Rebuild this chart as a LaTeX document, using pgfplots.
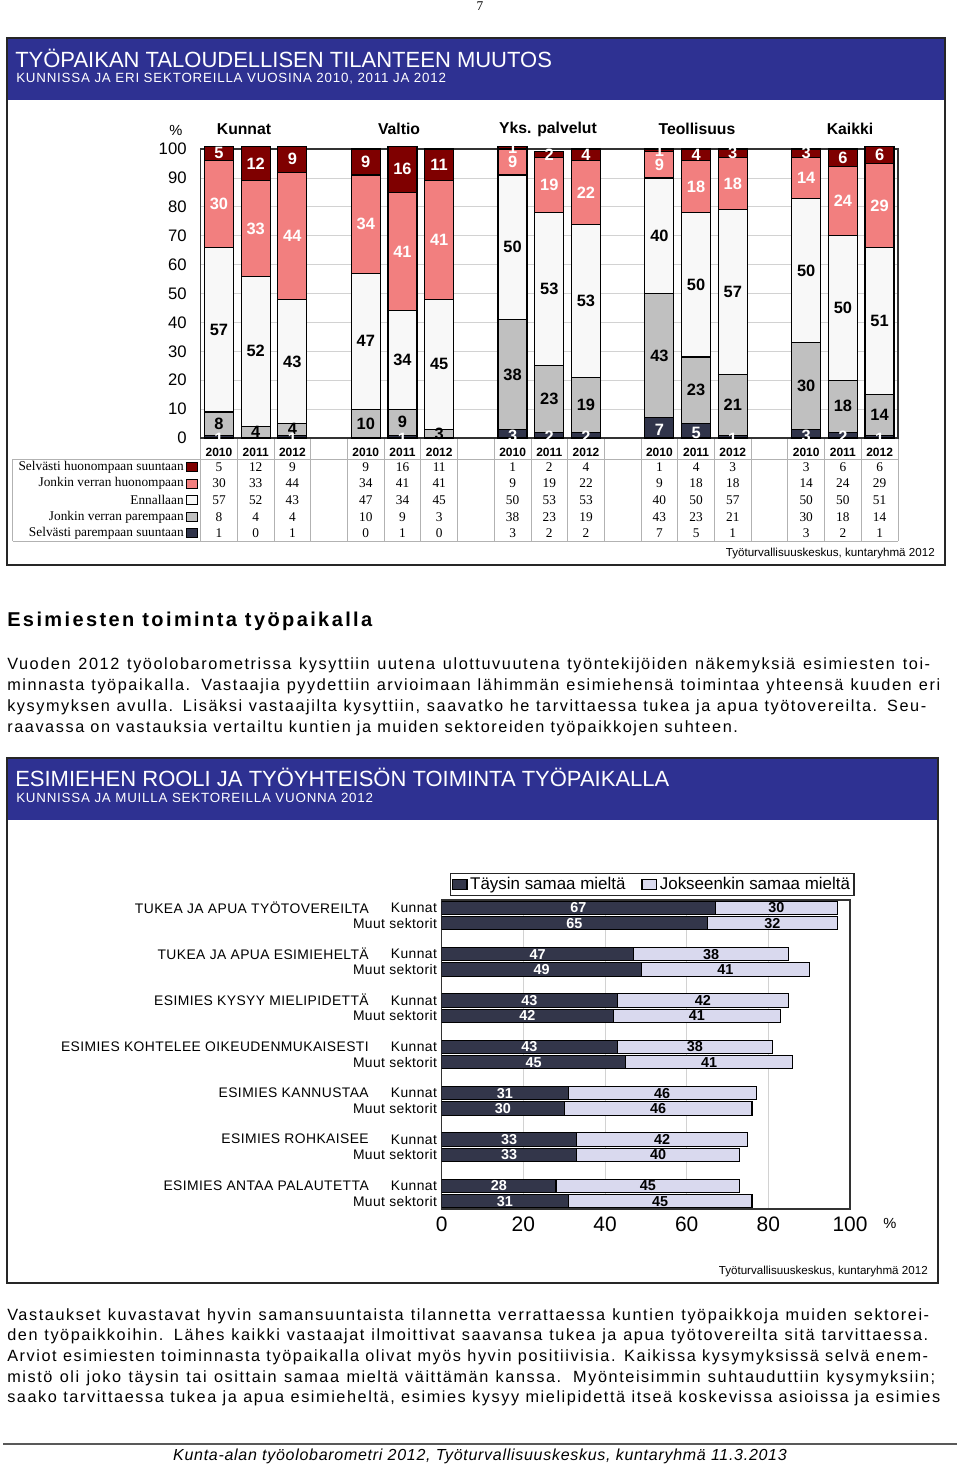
\documentclass[border=0pt]{standalone}
\usepackage{pgfplots}
\pgfplotsset{compat=1.18}
\usepackage{pgfplotstable}
\usepackage{fontspec}
\setmainfont{Liberation Sans}
\newfontfamily\seriffont{Liberation Serif}
\newfontfamily\bodyfont[LetterSpace=9.7]{Liberation Sans}
\newfontfamily\headfont[LetterSpace=12]{Liberation Sans}
\newfontfamily\labfont[LetterSpace=3]{Liberation Sans}
\newfontfamily\subfont[LetterSpace=6]{Liberation Sans}
\newfontfamily\footfont[LetterSpace=4.5]{Liberation Sans}
\definecolor{hdrblue}{HTML}{2E3192}
\definecolor{csh}{HTML}{7F0000}
\definecolor{cjh}{HTML}{F27F7F}
\definecolor{cen}{HTML}{F8F8F8}
\definecolor{cjp}{HTML}{C0C0C0}
\definecolor{csp}{HTML}{30344A}
\definecolor{tdark}{HTML}{33364A}
\definecolor{tlight}{HTML}{D9D9EE}

% Chart 1: change of workplace economic situation (%)
\pgfplotstableread{
x  sp jp en jh sh
0  1  8  57 30 5
1  0  4  52 33 12
2  1  4  43 44 9
4  0  10 47 34 9
5  1  9  34 41 16
6  0  3  45 41 11
8  3  38 50 9  1
9  2  23 53 19 2
10 2  19 53 22 4
12 7  43 40 9  1
13 5  23 50 18 4
14 1  21 57 18 3
16 3  30 50 14 3
17 2  18 50 24 6
18 1  14 51 29 6
}\tabA

% Chart 2: supervisor role (%)
\pgfplotstableread{
y  t  j
0  67 30
1  65 32
3  47 38
4  49 41
6  43 42
7  42 41
9  43 38
10 45 41
12 31 46
13 30 46
15 33 42
16 33 40
18 28 45
19 31 45
}\tabB

\newcommand{\nnc}{\pgfmathfloatifflags{\pgfplotspointmeta}{0}{}{\pgfmathprintnumber{\pgfplotspointmeta}}}
\newcommand{\jline}[3]{\node[anchor=west, inner sep=0, font=\bodyfont\fontsize{12.2}{12.2}\selectfont] at (7,#1) {\makebox[\dimexpr #2pt*3/4\relax][s]{#3}};}
\newcommand{\nline}[2]{\node[anchor=west, inner sep=0, font=\bodyfont\fontsize{12.2}{12.2}\selectfont] at (7,#1) {#2};}

\begin{document}
\begin{tikzpicture}
\begin{scope}[x=0.75pt,y=-0.75pt]
\useasboundingbox (0,0) rectangle (960,1467);
\fill[white] (0,0) rectangle (960,1467);
\node[font=\seriffont\fontsize{10}{10}\selectfont] at (480,6) {7};
% box 1
\fill[hdrblue] (7,38) rectangle (945,100);
\draw[line width=1.1pt, black!85] (7,38) rectangle (945,565);
\node[anchor=west, inner sep=0, text=white, font=\fontsize{16.5}{16.5}\selectfont] at (15,58) {TYÖPAIKAN TALOUDELLISEN TILANTEEN MUUTOS};
\node[anchor=west, inner sep=0, text=white, font=\subfont\fontsize{10}{10}\selectfont] at (16,79) {KUNNISSA JA ERI SEKTOREILLA VUOSINA 2010, 2011 JA 2012};
% group headers
\foreach \t/\xx in {Kunnat/244, Valtio/399, Yks. palvelut/548, Teollisuus/697, Kaikki/850}
  \node[font=\bfseries\fontsize{11.8}{11.8}\selectfont] at (\xx,129) {\t};
\node[font=\fontsize{11}{11}\selectfont] at (176,130) {\%};
% table
\draw[gray!60, line width=0.6pt] (12.7,459) -- (898,459);
\draw[gray!60, line width=0.6pt] (12.7,541) -- (898,541);
\draw[gray!60, line width=0.6pt] (12.7,459) -- (12.7,541);
\foreach \k in {0,...,19} \draw[gray!60, line width=0.6pt] ({200.6+36.7*\k},438) -- ({200.6+36.7*\k},541);
\foreach \k in {0,4,8,12,16} {
  \node[font=\bfseries\fontsize{9}{9}\selectfont] at ({219+36.7*\k},452) {2010};
  \node[font=\bfseries\fontsize{9}{9}\selectfont] at ({219+36.7*(\k+1)},452) {2011};
  \node[font=\bfseries\fontsize{9}{9}\selectfont] at ({219+36.7*(\k+2)},452) {2012};
}
\foreach \lab/\col/\yy in {Selvästi huonompaan suuntaan/csh/467, Jonkin verran huonompaan/cjh/483.5, Ennallaan/cen/500, Jonkin verran parempaan/cjp/517, Selvästi parempaan suuntaan/csp/533} {
  \node[anchor=east, inner sep=0, font=\seriffont\fontsize{10}{10}\selectfont] at (184,\yy) {\lab};
  \filldraw[fill=\col, draw=black, line width=0.6pt] (186,\yy-4.5) rectangle (197,\yy+4.5);
}
\foreach \row/\yy in {{5,12,9,9,16,11,1,2,4,1,4,3,3,6,6}/467,
                      {30,33,44,34,41,41,9,19,22,9,18,18,14,24,29}/483.5,
                      {57,52,43,47,34,45,50,53,53,40,50,57,50,50,51}/500,
                      {8,4,4,10,9,3,38,23,19,43,23,21,30,18,14}/517,
                      {1,0,1,0,1,0,3,2,2,7,5,1,3,2,1}/533} {
  \foreach \v [count=\i from 0] in \row {
    \pgfmathtruncatemacro\k{\i+int(\i/3)}
    \node[font=\seriffont\fontsize{10}{10}\selectfont] at ({219+36.7*\k},\yy) {\v};
  }
}
\node[anchor=east, inner sep=0, font=\fontsize{8.7}{8.7}\selectfont] at (935,553) {Työturvallisuuskeskus, kuntaryhmä 2012};
% heading and paragraph
\node[anchor=west, inner sep=0, font=\headfont\bfseries\fontsize{15}{15}\selectfont] at (7,621) {Esimiesten toiminta työpaikalla};
\jline{665}{923}{Vuoden 2012 työolobarometrissa kysyttiin uutena ulottuvuutena työntekijöiden näkemyksiä esimiesten toi-}
\jline{686}{933}{minnasta työpaikalla. Vastaajia pyydettiin arvioimaan lähimmän esimiehensä toimintaa yhteensä kuuden eri}
\jline{707}{919}{kysymyksen avulla. Lisäksi vastaajilta kysyttiin, saavatko he tarvittaessa tukea ja apua työtovereilta. Seu-}
\nline{728}{raavassa on vastauksia vertailtu kuntien ja muiden sektoreiden työpaikkojen suhteen.}
% box 2
\fill[hdrblue] (7,758) rectangle (938,820);
\draw[line width=1.1pt, black!85] (7,758) rectangle (938,1283);
\node[anchor=west, inner sep=0, text=white, font=\fontsize{16.5}{16.5}\selectfont] at (15,777) {ESIMIEHEN ROOLI JA TYÖYHTEISÖN TOIMINTA TYÖPAIKALLA};
\node[anchor=west, inner sep=0, text=white, font=\subfont\fontsize{10}{10}\selectfont] at (16,798) {KUNNISSA JA MUILLA SEKTOREILLA VUONNA 2012};
\foreach \t/\yy in {TUKEA JA APUA TYÖTOVEREILTA/907.5, TUKEA JA APUA ESIMIEHELTÄ/953.8, ESIMIES KYSYY MIELIPIDETTÄ/1000.2, ESIMIES KOHTELEE OIKEUDENMUKAISESTI/1046.5, ESIMIES KANNUSTAA/1092.9, ESIMIES ROHKAISEE/1139.2, ESIMIES ANTAA PALAUTETTA/1185.6}
  \node[anchor=east, inner sep=0, font=\labfont\fontsize{10.4}{10.4}\selectfont] at (369,\yy) {\t};
\node[font=\fontsize{11}{11}\selectfont] at (890,1223) {\%};
\node[anchor=east, inner sep=0, font=\fontsize{8.7}{8.7}\selectfont] at (928,1271) {Työturvallisuuskeskus, kuntaryhmä 2012};
% paragraph 2
\jline{1316}{922}{Vastaukset kuvastavat hyvin samansuuntaista tilannetta verrattaessa kuntien työpaikkoja muiden sektorei-}
\jline{1336}{921}{den työpaikkoihin. Lähes kaikki vastaajat ilmoittivat saavansa tukea ja apua työtovereilta sitä tarvittaessa.}
\jline{1357}{921}{Arviot esimiesten toiminnasta työpaikalla olivat myös hyvin positiivisia. Kaikissa kysymyksissä selvä enem-}
\jline{1378}{928}{mistö oli joko täysin tai osittain samaa mieltä väittämän kanssa. Myönteisimmin suhtauduttiin kysymyksiin;}
\jline{1398}{933}{saako tarvittaessa tukea ja apua esimieheltä, esimies kysyy mielipidettä itseä koskevissa asioissa ja esimies}
% footer
\draw[line width=1.4pt, black!65] (3,1444) -- (957,1444);
\node[font=\footfont\itshape\fontsize{12}{12}\selectfont] at (480,1456) {Kunta-alan työolobarometri 2012, Työturvallisuuskeskus, kuntaryhmä 11.3.2013};
\coordinate (A1) at (200.6,438);
\coordinate (A2) at (441.7,1209);
\end{scope}

% ---------- Chart 1 ----------
\begin{axis}[
  at={(A1)}, anchor=south west, scale only axis,
  width=523pt, height=216.75pt,
  xmin=-0.5, xmax=18.5, ymin=0, ymax=100,
  ybar stacked, bar width=0.79,
  xtick=\empty, ytick={0,10,...,100},
  ymajorgrids, grid style={draw=gray!35, line width=0.6pt},
  major tick length=0,
  axis line style={line width=1pt, draw=black!80},
  tick label style={font=\fontsize{12.5}{12.5}\selectfont},
  yticklabel style={xshift=-7pt},
  /pgf/number format/assume math mode=true,
  clip=false,
  nodes near coords=\nnc,
  every node near coord/.append style={font=\bfseries\fontsize{12.3}{12.3}\selectfont, anchor=center, inner sep=0pt},
]
\addplot[fill=csp, draw=black, line width=0.9pt, point meta=\thisrow{sp},
  every node near coord/.append style={text=white, yshift=-1.5pt}] table[x=x,y=sp]{\tabA};
\addplot[fill=cjp, draw=black, line width=0.9pt, point meta=\thisrow{jp},
  every node near coord/.append style={text=black}] table[x=x,y=jp]{\tabA};
\addplot[fill=cen, draw=black, line width=0.9pt, point meta=\thisrow{en},
  every node near coord/.append style={text=black}] table[x=x,y=en]{\tabA};
\addplot[fill=cjh, draw=black, line width=0.9pt, point meta=\thisrow{jh},
  every node near coord/.append style={text=white}] table[x=x,y=jh]{\tabA};
\addplot[fill=csh, draw=black, line width=0.9pt, point meta=\thisrow{sh},
  every node near coord/.append style={text=white}] table[x=x,y=sh]{\tabA};
\end{axis}

% ---------- Chart 2 ----------
\begin{axis}[
  at={(A2)}, anchor=south west, scale only axis,
  width=306.2pt, height=231.75pt,
  xmin=0, xmax=100, ymin=-0.5, ymax=19.5, y dir=reverse,
  xbar stacked, bar width=0.86,
  xtick={0,20,...,100},
  ytick={0,1,3,4,6,7,9,10,12,13,15,16,18,19},
  yticklabels={Kunnat,Muut sektorit,Kunnat,Muut sektorit,Kunnat,Muut sektorit,Kunnat,Muut sektorit,Kunnat,Muut sektorit,Kunnat,Muut sektorit,Kunnat,Muut sektorit},
  xmajorgrids, grid style={draw=gray!35, line width=0.6pt},
  major tick length=0,
  axis line style={line width=1pt, draw=black!80},
  xticklabel style={font=\fontsize{15.7}{15.7}\selectfont, yshift=-2pt},
  yticklabel style={font=\labfont\fontsize{10.4}{10.4}\selectfont},
  /pgf/number format/assume math mode=true,
  legend style={at={(0.02,1.012)}, anchor=south west, legend columns=2, font=\fontsize{12.7}{12.7}\selectfont,
    draw=black!85, line width=0.9pt, inner sep=1pt, row sep=0pt,
    /tikz/every even column/.append style={column sep=10pt}},
  legend image code/.code={\draw[#1, line width=0.8pt] (0pt,-3.8pt) rectangle (11pt,3.8pt);},
  nodes near coords=\nnc,
  every node near coord/.append style={font=\bfseries\fontsize{10.8}{10.8}\selectfont, anchor=center, inner sep=0pt},
]
\addplot[fill=tdark, draw=black, line width=0.8pt, point meta=\thisrow{t},
  every node near coord/.append style={text=white}] table[x=t,y=y]{\tabB};
\addplot[fill=tlight, draw=black, line width=0.8pt, point meta=\thisrow{j},
  every node near coord/.append style={text=black}] table[x=j,y=y]{\tabB};
\legend{Täysin samaa mieltä, Jokseenkin samaa mieltä}
\end{axis}
\end{tikzpicture}
\end{document}
